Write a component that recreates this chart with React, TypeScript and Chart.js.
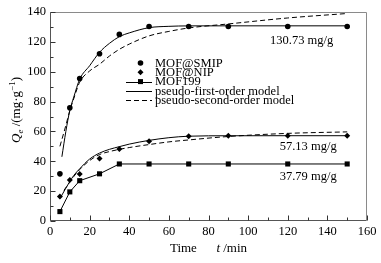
import React, { useEffect, useRef } from 'react';
import { Chart, registerables } from 'chart.js';

Chart.register(...registerables);

// ---- data ----
const sampleTimes = [5, 10, 15, 25, 35, 50, 70, 90, 120, 150];
const smipValues = [31.6, 75.8, 95.5, 112, 125, 130.3, 130.3, 130.3, 130.3, 130.3];
const nipValues = [16.4, 27.4, 31.4, 41.9, 48.2, 53.4, 56.8, 57.1, 57.1, 57.1];
const mof199Values = [6.3, 19.5, 27, 31.6, 38.2, 38.2, 38.2, 38.2, 38.2, 38.2];

const smipFirstTimes = [6, 8, 10, 12, 15, 20, 25, 30, 35, 40, 50, 60, 70, 90, 120, 150];
const smipFirstValues = [43, 60, 74, 83, 95, 104, 113, 119, 123.5, 126, 129.5, 130.4, 130.7, 130.73, 130.73, 130.73];
const smipSecondTimes = [5, 8, 10, 12, 15, 20, 25, 30, 35, 40, 50, 60, 70, 90, 120, 150];
const smipSecondValues = [50, 64, 74, 82, 93, 100.5, 105, 110.5, 115, 118.5, 124, 127, 129.3, 132, 136, 139];

const nipFirstTimes = [5, 8, 10, 12, 15, 20, 25, 30, 35, 40, 50, 60, 70, 90, 120, 150];
const nipFirstValues = [15, 22, 26.5, 30.5, 35, 41.5, 45.5, 48, 49.8, 51.5, 54, 55.8, 56.8, 57.1, 57.13, 57.13];
const nipSecondTimes = [7, 10, 12, 15, 20, 25, 30, 35, 40, 50, 60, 70, 90, 120, 150];
const nipSecondValues = [20.5, 26, 29.8, 34.5, 40.5, 44.5, 46.5, 48, 49.2, 51.2, 53, 54.3, 56.6, 58.7, 59.7];

const xTickValues = [0, 20, 40, 60, 80, 100, 120, 140, 160];
const xMinorValues = [10, 30, 50, 70, 90, 110, 130, 150];
const yTickValues = [0, 20, 40, 60, 80, 100, 120, 140];
const yMinorValues = [10, 30, 50, 70, 90, 110, 130];

const legendLabels = ['MOF@SMIP', 'MOF@NIP', 'MOF199', 'pseudo-first-order model', 'pseudo-second-order model'];
const plateauLabels = ['130.73 mg/g', '57.13 mg/g', '37.79 mg/g'];
const plateauAnchorT = [127, 130.3, 130.3];
const plateauAnchorQ = [120.5, 49.8, 29.8];

const FONT = "'Liberation Serif', 'Times New Roman', serif";

const pts = (xs: number[], ys: number[]) => xs.map((x, i) => ({ x, y: ys[i] }));

const decorPlugin = {
  id: 'decor',
  afterDraw(chart: any) {
    const { ctx, chartArea: a, scales } = chart;
    const xs = scales.x;
    const ys = scales.y;
    const L = Math.round(a.left) + 0.5;
    const R = Math.round(a.right) - 0.5;
    const T = Math.round(a.top) + 0.5;
    const B = Math.round(a.bottom) - 0.5;
    ctx.save();
    // frame
    ctx.lineWidth = 1;
    ctx.strokeStyle = '#8a8a8a';
    ctx.beginPath();
    ctx.moveTo(L, T);
    ctx.lineTo(R, T);
    ctx.lineTo(R, B);
    ctx.stroke();
    ctx.strokeStyle = '#555';
    ctx.beginPath();
    ctx.moveTo(L, T);
    ctx.lineTo(L, B);
    ctx.lineTo(R, B);
    ctx.stroke();
    // ticks inside
    ctx.strokeStyle = '#333';
    ctx.beginPath();
    xTickValues.forEach((v) => {
      const px = Math.round(xs.getPixelForValue(v)) + 0.5;
      ctx.moveTo(px, B);
      ctx.lineTo(px, B - 5);
    });
    xMinorValues.forEach((v) => {
      const px = Math.round(xs.getPixelForValue(v)) + 0.5;
      ctx.moveTo(px, B);
      ctx.lineTo(px, B - 3);
    });
    yTickValues.forEach((v) => {
      const py = Math.round(ys.getPixelForValue(v)) + 0.5;
      ctx.moveTo(L, py);
      ctx.lineTo(L + 5, py);
    });
    yMinorValues.forEach((v) => {
      const py = Math.round(ys.getPixelForValue(v)) + 0.5;
      ctx.moveTo(L, py);
      ctx.lineTo(L + 3, py);
    });
    ctx.stroke();

    // plateau annotations
    ctx.fillStyle = '#000';
    ctx.font = `12.5px ${FONT}`;
    ctx.textAlign = 'center';
    ctx.textBaseline = 'middle';
    plateauLabels.forEach((t, i) => {
      ctx.fillText(t, xs.getPixelForValue(plateauAnchorT[i]), ys.getPixelForValue(plateauAnchorQ[i]));
    });

    // legend
    const lx0 = 126, lx1 = 152, mx = 140.5, tx = 155;
    const rowY = (i: number) => 63 + i * 9.3;
    ctx.textAlign = 'left';
    ctx.textBaseline = 'middle';
    ctx.font = `12.5px ${FONT}`;
    legendLabels.forEach((label, i) => {
      const y = rowY(i);
      const yy = Math.round(y) + 0.5;
      ctx.strokeStyle = '#000';
      ctx.fillStyle = '#000';
      ctx.lineWidth = 1;
      if (i === 0) {
        ctx.beginPath();
        ctx.arc(mx, y, 2.8, 0, Math.PI * 2);
        ctx.fill();
      } else if (i === 1) {
        ctx.beginPath();
        ctx.moveTo(mx, y - 3);
        ctx.lineTo(mx + 3, y);
        ctx.lineTo(mx, y + 3);
        ctx.lineTo(mx - 3, y);
        ctx.closePath();
        ctx.fill();
      } else if (i === 2) {
        ctx.beginPath();
        ctx.moveTo(lx0, yy);
        ctx.lineTo(lx1, yy);
        ctx.stroke();
        ctx.fillRect(mx - 2.5, y - 2.5, 5, 5);
      } else {
        ctx.setLineDash(i === 4 ? [5, 3] : []);
        ctx.beginPath();
        ctx.moveTo(lx0, yy);
        ctx.lineTo(lx1, yy);
        ctx.stroke();
        ctx.setLineDash([]);
      }
      ctx.fillText(label, tx, y + 0.5);
    });

    // x title: "Time   t /min"
    ctx.textBaseline = 'alphabetic';
    ctx.textAlign = 'left';
    const xtParts: [string, string][] = [
      ['Time', `13px ${FONT}`],
      ['      ', `13px ${FONT}`],
      ['t', `italic 13px ${FONT}`],
      [' /min', `13px ${FONT}`],
    ];
    let w = 0;
    xtParts.forEach(([s, f]) => { ctx.font = f; w += ctx.measureText(s).width; });
    let cx = (a.left + a.right) / 2 - w / 2;
    xtParts.forEach(([s, f]) => {
      ctx.font = f;
      ctx.fillText(s, cx, 252);
      cx += ctx.measureText(s).width;
    });

    // y title: "Qe /(mg·g−1)"
    ctx.save();
    ctx.translate(19.5, 110);
    ctx.rotate(-Math.PI / 2);
    const ytParts: [string, string, number][] = [
      ['Q', `italic 13px ${FONT}`, 0],
      ['e', `italic 9px ${FONT}`, 3],
      [' /(mg·g', `13px ${FONT}`, 0],
      ['−1', `9px ${FONT}`, -5],
      [')', `13px ${FONT}`, 0],
    ];
    let yw = 0;
    ytParts.forEach(([s, f]) => { ctx.font = f; yw += ctx.measureText(s).width; });
    let cy = -yw / 2;
    ytParts.forEach(([s, f, dy]) => {
      ctx.font = f;
      ctx.fillText(s, cy, dy);
      cy += ctx.measureText(s).width;
    });
    ctx.restore();

    ctx.restore();
  },
};

export default function App() {
  const ref = useRef<HTMLCanvasElement | null>(null);
  useEffect(() => {
    if (!ref.current) return;
    const lineBase = {
      borderColor: '#000',
      backgroundColor: '#000',
      borderWidth: 1,
      pointRadius: 0,
      fill: false,
      cubicInterpolationMode: 'monotone' as const,
    };
    const chart = new Chart(ref.current, {
      type: 'line',
      data: {
        datasets: [
          {
            label: legendLabels[0],
            data: pts(sampleTimes, smipValues),
            showLine: false,
            pointStyle: 'circle',
            pointRadius: 2.8,
            pointBorderWidth: 0,
            pointBackgroundColor: '#000',
            borderColor: '#000',
          },
          {
            label: legendLabels[1],
            data: pts(sampleTimes, nipValues),
            showLine: false,
            pointStyle: 'rectRot',
            pointRadius: 3,
            pointBorderWidth: 0,
            pointBackgroundColor: '#000',
            borderColor: '#000',
          },
          {
            label: legendLabels[2],
            data: pts(sampleTimes, mof199Values),
            showLine: true,
            tension: 0,
            borderColor: '#000',
            borderWidth: 1,
            pointStyle: 'rect',
            pointRadius: 3.6,
            pointBorderWidth: 0,
            pointBackgroundColor: '#000',
          },
          { label: 'smip-first', data: pts(smipFirstTimes, smipFirstValues), ...lineBase },
          { label: 'smip-second', data: pts(smipSecondTimes, smipSecondValues), ...lineBase, borderDash: [5, 3] },
          { label: 'nip-first', data: pts(nipFirstTimes, nipFirstValues), ...lineBase },
          { label: 'nip-second', data: pts(nipSecondTimes, nipSecondValues), ...lineBase, borderDash: [5, 3] },
        ],
      },
      options: {
        animation: false,
        responsive: false,
        devicePixelRatio: 1,
        layout: { padding: { left: 0, right: 14, top: 12, bottom: 0 } },
        plugins: { legend: { display: false }, tooltip: { enabled: false } },
        scales: {
          x: {
            type: 'linear',
            min: 0,
            max: 160,
            grid: { display: false, drawTicks: false },
            border: { display: false },
            afterBuildTicks: (s: any) => { s.ticks = xTickValues.map((v) => ({ value: v })); },
            afterFit: (s: any) => { s.height = 42; },
            ticks: { color: '#000', padding: 3, font: { family: FONT, size: 12.5 }, maxRotation: 0, autoSkip: false },
          },
          y: {
            type: 'linear',
            min: 0,
            max: 140,
            grid: { display: false, drawTicks: false },
            border: { display: false },
            afterBuildTicks: (s: any) => { s.ticks = yTickValues.map((v) => ({ value: v })); },
            afterFit: (s: any) => { s.width = 50; },
            ticks: { color: '#000', padding: 4, font: { family: FONT, size: 12.5 }, autoSkip: false },
          },
        },
      },
      plugins: [decorPlugin],
    });
    return () => chart.destroy();
  }, []);
  return (
    <div style={{ position: 'fixed', left: 0, top: 0, width: 381, height: 263, background: '#fff' }}>
      <canvas ref={ref} width={381} height={263} style={{ display: 'block', width: 381, height: 263 }} />
    </div>
  );
}
